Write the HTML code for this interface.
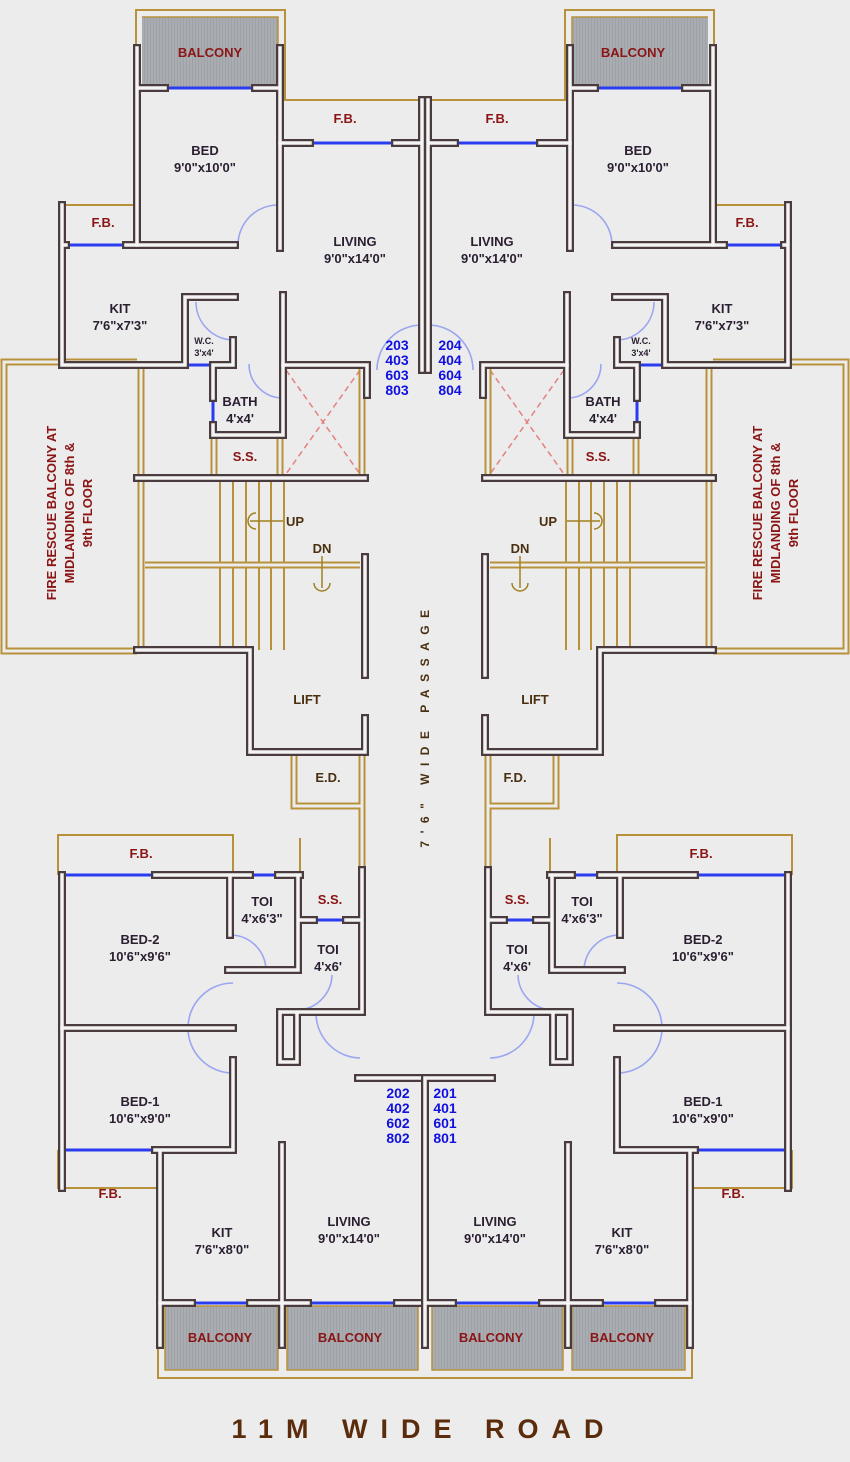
<!DOCTYPE html>
<html><head><meta charset="utf-8"><style>
html,body{margin:0;padding:0;background:#ececec}
svg{display:block}
text{font-family:"Liberation Sans","DejaVu Sans",sans-serif;font-weight:bold;text-anchor:middle}
.r{fill:#8b1414;font-size:13px}
.k{fill:#2a1e30;font-size:13px}
.s{fill:#2a1e30;font-size:9px}
.b{fill:#1010e0;font-size:14px}
.br{fill:#4a3010;font-size:13px}
</style></head><body>
<svg width="850" height="1462" viewBox="0 0 850 1462" xmlns="http://www.w3.org/2000/svg">
<defs>
<pattern id="gp" width="3" height="3" patternUnits="userSpaceOnUse"><rect width="3" height="3" fill="#a9adb2"/><rect width="1" height="3" fill="#9ea2a7"/></pattern>
<g id="half">
 <rect x="142" y="17" width="136" height="70" fill="url(#gp)"/>
 <rect x="165" y="1306" width="113" height="64" fill="url(#gp)"/>
 <rect x="287" y="1306" width="131" height="64" fill="url(#gp)"/>
 <g fill="none" stroke="#b8923a" stroke-width="2">
  <path d="M136,48V10H285V100H422"/>
  <path d="M60,245V205H137"/>
  <path d="M58,875V835H233V875"/>
  <path d="M58,1150V1188H158"/>
  <path d="M158,1345V1378H425"/>
  <path d="M165,1306H278V1370H165Z M287,1306H418V1370H287Z" stroke-width="1.5"/>
  <path d="M142,17H278V87" stroke-width="1.5"/>
  <path d="M220,478V650M233,478V650M246,478V650M259,478V650M271,478V650M284,478V650"/>
  <path d="M300,875V838"/>
 </g>
 <g id="gd" fill="none">
  <path d="M137,362H4V651H137"/>
  <path d="M141,365V650"/>
  <path d="M214,435V478 M280,435V478"/>
  <path d="M362,365V478"/>
  <path d="M145,565H360"/>
  <path d="M294,752V806H362"/>
  <path d="M362,752V875"/>
 </g>
 <path d="M286,370L360,474M360,370L286,474" stroke="#e58080" stroke-width="1.5" stroke-dasharray="6,4" fill="none"/>
 <g stroke="#2a3cf0" stroke-width="3" fill="none">
  <path d="M165,88H255M310,143H395M66,245H126M185,365H210M213,398V425"/>
  <path d="M66,875H155M250,875H278M314,920H346M66,1150H155M192,1303H250M308,1303H397"/>
 </g>
 <g stroke="#9aa6f0" stroke-width="1.6" fill="none">
  <path d="M238,245A40,40 0 0 1 278,205"/>
  <path d="M196,302A38,38 0 0 0 234,340"/>
  <path d="M283,398A34,34 0 0 1 249,364"/>
  <path d="M377,370A45,45 0 0 1 422,325"/>
  <path d="M233,983A45,45 0 0 0 233,1073"/>
  <path d="M232,935A36,36 0 0 1 266,970"/>
  <path d="M298,1010A36,36 0 0 0 332,975" />
  <path d="M316,1012A45,45 0 0 0 360,1058"/>
 </g>
 <g id="w" fill="none">
  <path d="M137,48V245H235M137,88H165M255,88H280M280,48V248"/>
  <path d="M280,143H310M395,143H422M422,100V370"/>
  <path d="M62,205V365H185V297H235M62,245H66M126,245H137"/>
  <path d="M233,340V365H213V398M213,425V435H283V295"/>
  <path d="M283,365H367V395"/>
  <path d="M137,478H365M137,650H250V752H365V718M365,557V675"/>
  <path d="M62,875V1188M155,875H250M278,875H300M230,875V935M228,970H298V875"/>
  <path d="M300,920H314M346,920H362M362,870V1012H280M280,1012V1062H297V1012"/>
  <path d="M62,1028H233M233,1060V1150H155M160,1150V1303M282,1145V1345"/>
  <path d="M358,1078H425M425,1078V1345M160,1303H192M250,1303H308M397,1303H425M160,1303V1345"/>
 </g>
</g>
</defs>
<rect width="850" height="1462" fill="#ececec"/>
<g id="L">
 <use href="#half"/>
 <use href="#gd" stroke="#b8923a" stroke-width="7"/>
 <use href="#gd" stroke="#ececec" stroke-width="3"/>
 <use href="#w" stroke="#4a3c3e" stroke-width="8" stroke-linecap="square"/>
 <use href="#w" stroke="#f4f4f4" stroke-width="3.5" stroke-linecap="square"/>
</g>
<g transform="translate(850,0) scale(-1,1)">
 <use href="#half"/>
 <use href="#gd" stroke="#b8923a" stroke-width="7"/>
 <use href="#gd" stroke="#ececec" stroke-width="3"/>
 <use href="#w" stroke="#4a3c3e" stroke-width="8" stroke-linecap="square"/>
 <use href="#w" stroke="#f4f4f4" stroke-width="3.5" stroke-linecap="square"/>
</g>
<g stroke="#a08020" stroke-width="1.5" fill="none">
 <path d="M283,521H250M256,513A8,8 0 0 0 256,529"/>
 <path d="M322,556V588M314,583A8,8 0 0 0 330,583"/>
 <path d="M567,521H600M594,513A8,8 0 0 1 594,529"/>
 <path d="M520,556V588M512,583A8,8 0 0 0 528,583"/>
</g>
<text class="r" x="210" y="57">BALCONY</text>
<text class="r" x="345" y="123">F.B.</text>
<text class="k" x="205" y="155">BED</text><text class="k" x="205" y="172">9'0"x10'0"</text>
<text class="k" x="355" y="246">LIVING</text><text class="k" x="355" y="263">9'0"x14'0"</text>
<text class="r" x="103" y="227">F.B.</text>
<text class="k" x="120" y="313">KIT</text><text class="k" x="120" y="330">7'6"x7'3"</text>
<text class="s" x="204" y="344">W.C.</text><text class="s" x="204" y="356">3'x4'</text>
<text class="k" x="240" y="406">BATH</text><text class="k" x="240" y="423">4'x4'</text>
<text class="r" x="245" y="461">S.S.</text>
<text class="b" x="397" y="350">203</text><text class="b" x="397" y="365">403</text><text class="b" x="397" y="380">603</text><text class="b" x="397" y="395">803</text>
<text class="br" x="295" y="526">UP</text><text class="br" x="322" y="553">DN</text>
<text class="br" x="307" y="704">LIFT</text>
<text class="br" x="328" y="782">E.D.</text>
<g transform="translate(72,513) rotate(-90)"><text class="r" x="0" y="-16">FIRE RESCUE BALCONY AT</text><text class="r" x="0" y="2">MIDLANDING OF 8th &amp;</text><text class="r" x="0" y="20">9th FLOOR</text></g>
<text class="r" x="633" y="57">BALCONY</text>
<text class="r" x="497" y="123">F.B.</text>
<text class="k" x="638" y="155">BED</text><text class="k" x="638" y="172">9'0"x10'0"</text>
<text class="k" x="492" y="246">LIVING</text><text class="k" x="492" y="263">9'0"x14'0"</text>
<text class="r" x="747" y="227">F.B.</text>
<text class="k" x="722" y="313">KIT</text><text class="k" x="722" y="330">7'6"x7'3"</text>
<text class="s" x="641" y="344">W.C.</text><text class="s" x="641" y="356">3'x4'</text>
<text class="k" x="603" y="406">BATH</text><text class="k" x="603" y="423">4'x4'</text>
<text class="r" x="598" y="461">S.S.</text>
<text class="b" x="450" y="350">204</text><text class="b" x="450" y="365">404</text><text class="b" x="450" y="380">604</text><text class="b" x="450" y="395">804</text>
<text class="br" x="548" y="526">UP</text><text class="br" x="520" y="553">DN</text>
<text class="br" x="535" y="704">LIFT</text>
<text class="br" x="515" y="782">F.D.</text>
<g transform="translate(778,513) rotate(-90)"><text class="r" x="0" y="-16">FIRE RESCUE BALCONY AT</text><text class="r" x="0" y="2">MIDLANDING OF 8th &amp;</text><text class="r" x="0" y="20">9th FLOOR</text></g>
<text class="br" transform="translate(429,725) rotate(-90)" style="font-size:12px;letter-spacing:7.5px">7'6" WIDE PASSAGE</text>
<text class="r" x="141" y="858">F.B.</text>
<text class="k" x="262" y="906">TOI</text><text class="k" x="262" y="923">4'x6'3"</text>
<text class="r" x="330" y="904">S.S.</text>
<text class="k" x="328" y="954">TOI</text><text class="k" x="328" y="971">4'x6'</text>
<text class="k" x="140" y="944">BED-2</text><text class="k" x="140" y="961">10'6"x9'6"</text>
<text class="k" x="140" y="1106">BED-1</text><text class="k" x="140" y="1123">10'6"x9'0"</text>
<text class="r" x="110" y="1198">F.B.</text>
<text class="k" x="222" y="1237">KIT</text><text class="k" x="222" y="1254">7'6"x8'0"</text>
<text class="k" x="349" y="1226">LIVING</text><text class="k" x="349" y="1243">9'0"x14'0"</text>
<text class="r" x="220" y="1342">BALCONY</text><text class="r" x="350" y="1342">BALCONY</text>
<text class="b" x="398" y="1098">202</text><text class="b" x="398" y="1113">402</text><text class="b" x="398" y="1128">602</text><text class="b" x="398" y="1143">802</text>
<text class="r" x="701" y="858">F.B.</text>
<text class="k" x="582" y="906">TOI</text><text class="k" x="582" y="923">4'x6'3"</text>
<text class="r" x="517" y="904">S.S.</text>
<text class="k" x="517" y="954">TOI</text><text class="k" x="517" y="971">4'x6'</text>
<text class="k" x="703" y="944">BED-2</text><text class="k" x="703" y="961">10'6"x9'6"</text>
<text class="k" x="703" y="1106">BED-1</text><text class="k" x="703" y="1123">10'6"x9'0"</text>
<text class="r" x="733" y="1198">F.B.</text>
<text class="k" x="622" y="1237">KIT</text><text class="k" x="622" y="1254">7'6"x8'0"</text>
<text class="k" x="495" y="1226">LIVING</text><text class="k" x="495" y="1243">9'0"x14'0"</text>
<text class="r" x="491" y="1342">BALCONY</text><text class="r" x="622" y="1342">BALCONY</text>
<text class="b" x="445" y="1098">201</text><text class="b" x="445" y="1113">401</text><text class="b" x="445" y="1128">601</text><text class="b" x="445" y="1143">801</text>
<text x="424" y="1438" style="fill:#5a2c0c;font-size:27px;letter-spacing:13px">11M WIDE ROAD</text>
</svg>
</body></html>
